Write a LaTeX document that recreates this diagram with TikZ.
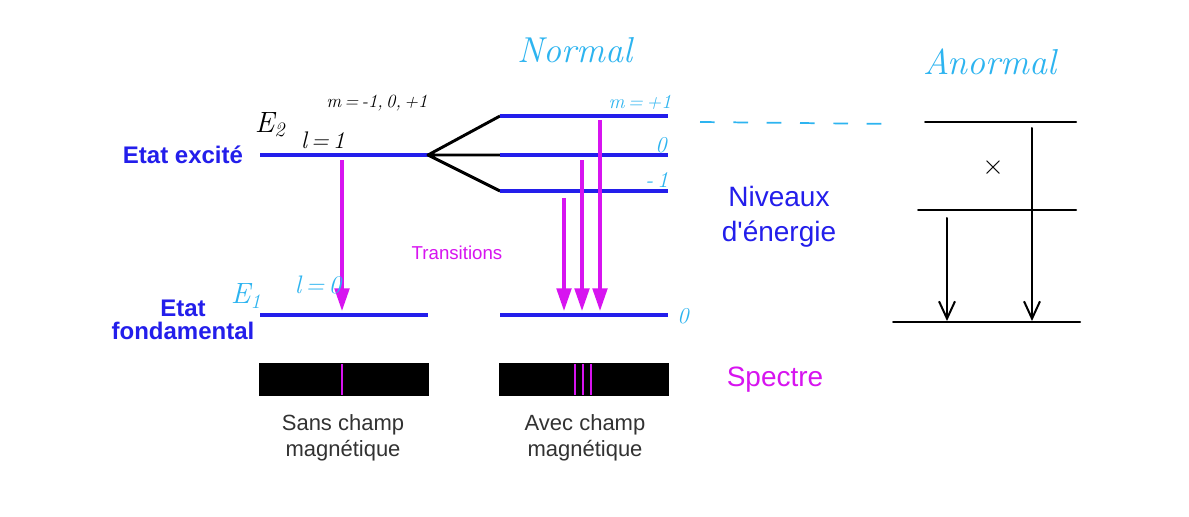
\documentclass[tikz,border=0pt]{standalone}
\usepackage{fontspec}
\newfontfamily\arialfont{Liberation Sans}
\usetikzlibrary{arrows.meta}
\definecolor{niveau}{RGB}{35,30,235}
\definecolor{trans}{RGB}{215,20,240}
\definecolor{main}{RGB}{45,180,240}
\definecolor{legende}{RGB}{50,50,50}
\begin{document}
\begin{tikzpicture}[x=0.75pt,y=-0.75pt,
  level/.style={draw=niveau,line width=2.4pt},
  fork/.style={draw=black,line width=2.2pt,line join=round},
  trans/.style={draw=trans,line width=2.4pt,-{Triangle[length=17pt,width=11pt]}},
  raie/.style={draw=trans,line width=1.6pt},
  hand/.style={draw=black,line width=1.5pt,line cap=round},
  handarrow/.style={hand,-{Straight Barb[length=13pt,width=12pt,line width=1.5pt]}},
  etat/.style={text=niveau,font=\arialfont\bfseries\fontsize{18}{17}\selectfont,align=center,inner sep=0pt},
  bleu/.style={text=niveau,font=\arialfont\fontsize{21}{26}\selectfont,align=center,inner sep=0pt},
  legende/.style={text=legende,font=\arialfont\fontsize{16.5}{19.5}\selectfont,align=center,inner sep=0pt},
  main/.style={text=main,font=\itshape\fontsize{#1}{#1}\selectfont,inner sep=0pt},
  noir/.style={text=black,font=\itshape\fontsize{#1}{#1}\selectfont,inner sep=0pt}]
\useasboundingbox[fill=white] (0,0) rectangle (1189,517);

% niveaux d'energie
\coordinate (e0) at (260,155);\coordinate (fork) at (428,155);
\coordinate (p1a) at (500,116);\coordinate (p1b) at (668,116);
\coordinate (p0a) at (500,155);\coordinate (p0b) at (668,155);
\coordinate (pma) at (500,191);\coordinate (pmb) at (668,191);
\coordinate (g1a) at (260,315);\coordinate (g1b) at (428,315);
\coordinate (g2a) at (500,315);\coordinate (g2b) at (668,315);
\path[level] (e0) -- (fork);
\path[fork] (p1a) -- (fork) -- (pma) (fork) -- (p0a);
\path[level] (p1a) -- (p1b);\path[level] (p0a) -- (p0b);\path[level] (pma) -- (pmb);
\path[level] (g1a) -- (g1b);\path[level] (g2a) -- (g2b);

\node[etat] (exc) at (183,155) {Etat excit\'e};
\node[etat] (fond) at (183,320) {Etat\\fondamental};
\node[bleu] (niv) at (779,217) {Niveaux\\d'\'energie};
\node[text=trans,font=\arialfont\fontsize{14}{14}\selectfont,inner sep=0pt] (tr) at (457,253) {Transitions};
\node[text=trans,font=\arialfont\fontsize{21}{21}\selectfont,inner sep=0pt] (spec) at (775,380) {Spectre};

% transitions
\coordinate (t0) at (342,160);\coordinate (t0b) at (342,311);
\coordinate (t1) at (564,198);\coordinate (t1b) at (564,311);
\coordinate (t2) at (582,160);\coordinate (t2b) at (582,311);
\coordinate (t3) at (600,120);\coordinate (t3b) at (600,311);
\path[trans] (t0) -- (t0b);
\path[trans] (t1) -- (t1b);
\path[trans] (t2) -- (t2b);
\path[trans] (t3) -- (t3b);

% spectres
\fill (259,363) rectangle (429,396);
\fill (499,363) rectangle (669,396);
\foreach \x in {342,575,583,591}
  \path[raie] (\x,364) -- (\x,395);
\node[legende] (sans) at (343,438) {Sans champ\\magn\'etique};
\node[legende] (avec) at (585,438) {Avec champ\\magn\'etique};

% notes a la main
\node[main=27] (normal) at (575,50) {Normal};
\node[main=27] (anormal) at (990,62) {Anormal};
\node[main=15] (mp) at (640,102) {m\,=\,+1};
\node[main=17] (m0) at (661,145) {0};
\node[main=17] (mm) at (657,180) {-\,1};
\node[main=17] (g0) at (683,316) {0};
\node[main=22] (e1) at (246,296) {E\textsubscript{1}};
\node[main=19] (l0) at (318,285) {l\,=\,0};
\node[noir=22] (e2) at (270,125) {E\textsubscript{2}};
\node[noir=18] (l1) at (323,140) {l\,=\,1};
\node[noir=14] (ml) at (377,103) {m\,=\,-1,\,0,\,+1};
\coordinate (d0) at (700,122);\coordinate (d1) at (895,124);
\path[draw=main,line width=1.3pt,dash pattern=on 11pt off 14pt] (d0) -- (d1);

% effet Zeeman anormal
\coordinate (a1a) at (925,122);\coordinate (a1b) at (1076,122);
\coordinate (a2a) at (918,210);\coordinate (a2b) at (1076,210);
\coordinate (a3a) at (893,322);\coordinate (a3b) at (1080,322);
\path[hand] (a1a) -- (a1b);\path[hand] (a2a) -- (a2b);\path[hand] (a3a) -- (a3b);
\node[noir=20,font=\fontsize{20}{20}\selectfont] (croix) at (993,168) {$\times$};
\coordinate (x1) at (947,218);\coordinate (x1b) at (947,321);
\coordinate (x2) at (1032,128);\coordinate (x2b) at (1032,321);
\path[handarrow] (x1) -- (x1b);
\path[handarrow] (x2) -- (x2b);
\end{tikzpicture}
\end{document}
